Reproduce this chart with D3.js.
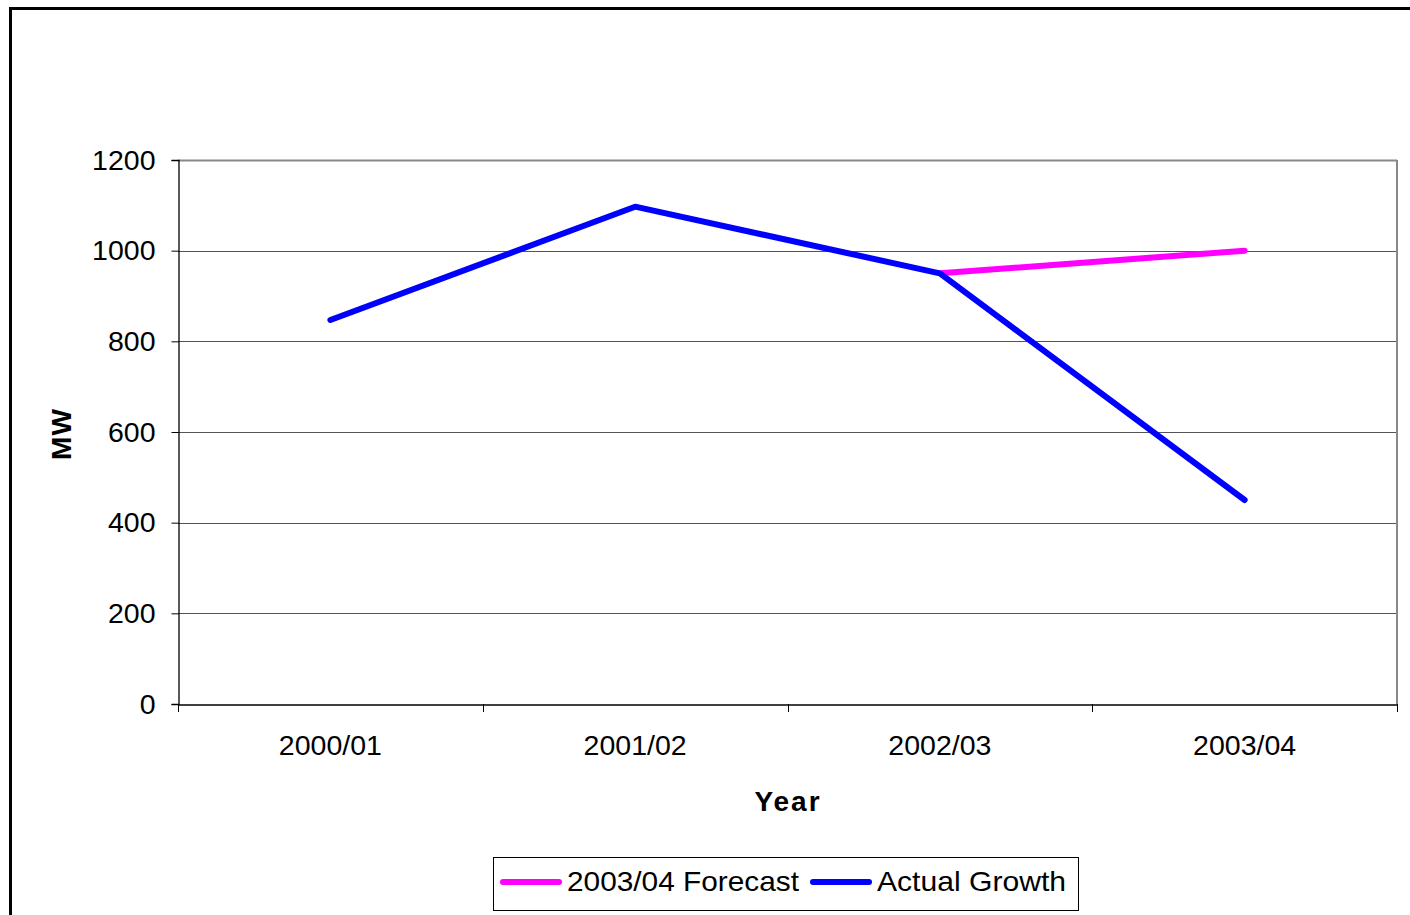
<!DOCTYPE html>
<html><head><meta charset="utf-8">
<script src="https://cdn.jsdelivr.net/npm/d3@7/dist/d3.min.js"></script>
<style>html,body{margin:0;padding:0;background:#fff;}svg{display:block;font-family:"Liberation Sans",Arial,sans-serif;}</style>
</head><body>
<script>
const categories = ["2000/01","2001/02","2002/03","2003/04"];
const actualGrowth = [847, 1097, 950, 450];
const forecast = [null, null, 950, 1000];
const yTicks = [0,200,400,600,800,1000,1200];
const seriesNames = ["2003/04 Forecast","Actual Growth"];
const seriesColors = ["#ff00ff","#0000ff"];

const W=1410,H=915;
const svg=d3.select("body").append("svg").attr("width",W).attr("height",H);
svg.append("rect").attr("x",10.5).attr("y",8.5).attr("width",W+10).attr("height",H+10)
  .attr("fill","none").attr("stroke","#000").attr("stroke-width",3);

const L=178,R=1397,T=160,B=704;
const x=d3.scaleBand().domain(categories).range([L,R]);
const y=d3.scaleLinear().domain([0,1200]).range([B,T]);

// gridlines
svg.append("g").selectAll("line").data(yTicks.filter(d=>d>0)).join("line")
  .attr("x1",L).attr("x2",R).attr("y1",d=>Math.round(y(d))+0.5).attr("y2",d=>Math.round(y(d))+0.5)
  .attr("stroke","#555").attr("stroke-width",1);
// plot border top/right
svg.append("line").attr("x1",L).attr("x2",R).attr("y1",T+0.5).attr("y2",T+0.5).attr("stroke","#888").attr("stroke-width",2);
svg.append("line").attr("x1",R).attr("x2",R).attr("y1",T).attr("y2",B).attr("stroke","#888").attr("stroke-width",2);

// y axis
const ya=svg.append("g").attr("transform",`translate(${L+0.5},0)`)
  .call(d3.axisLeft(y).tickValues(yTicks).tickSize(7).tickPadding(16).tickFormat(d3.format("d")));
ya.select(".domain").attr("stroke","#000").attr("stroke-width",1.3);
ya.selectAll(".tick line").attr("stroke","#000");
ya.selectAll("text").attr("font-size",28.5).attr("fill","#000").attr("font-family","Liberation Sans, Arial, sans-serif");

// x axis
const xa=svg.append("g").attr("transform",`translate(0,${B+0.5})`)
  .call(d3.axisBottom(x).tickSize(0).tickPadding(30));
xa.select(".domain").attr("stroke","#000").attr("stroke-width",1.3);
xa.selectAll("text").attr("font-size",28.5).attr("fill","#000").attr("font-family","Liberation Sans, Arial, sans-serif");
const bounds=[...categories.map(c=>x(c)), R];
svg.append("g").selectAll("line").data(bounds).join("line")
  .attr("x1",d=>Math.round(d)+0.5).attr("x2",d=>Math.round(d)+0.5).attr("y1",B).attr("y2",B+8)
  .attr("stroke","#000").attr("stroke-width",1);

// axis titles
svg.append("text").attr("x",788).attr("y",811).attr("text-anchor","middle")
  .attr("font-size",28).attr("font-weight","bold").attr("letter-spacing",2).text("Year");
svg.append("text").attr("transform","translate(71,434) rotate(-90)").attr("text-anchor","middle")
  .attr("font-size",28).attr("font-weight","bold").attr("letter-spacing",1).text("MW");

// lines
const cx=c=>x(c)+x.bandwidth()/2;
const line=d3.line().defined(d=>d.v!=null).x(d=>cx(d.c)).y(d=>y(d.v));
const series=[forecast, actualGrowth];
series.forEach((s,i)=>{
  svg.append("path").datum(categories.map((c,j)=>({c,v:s[j]})))
    .attr("d",line).attr("fill","none").attr("stroke",seriesColors[i]).attr("stroke-width",6)
    .attr("stroke-linecap","round").attr("stroke-linejoin","round");
});

// legend
const lg=svg.append("g");
lg.append("rect").attr("x",493.5).attr("y",857.5).attr("width",585).attr("height",53)
  .attr("fill","#fff").attr("stroke","#000").attr("stroke-width",1);
const legX=[503,813];
seriesNames.forEach((n,i)=>{
  lg.append("line").attr("x1",legX[i]).attr("x2",legX[i]+56).attr("y1",882).attr("y2",882)
    .attr("stroke",seriesColors[i]).attr("stroke-width",6).attr("stroke-linecap","round");
  lg.append("text").attr("x",legX[i]+64).attr("y",891).attr("font-size",28)
    .attr("textLength",i==0?232:189).attr("lengthAdjust","spacingAndGlyphs").text(n);
});
</script>
</body></html>
